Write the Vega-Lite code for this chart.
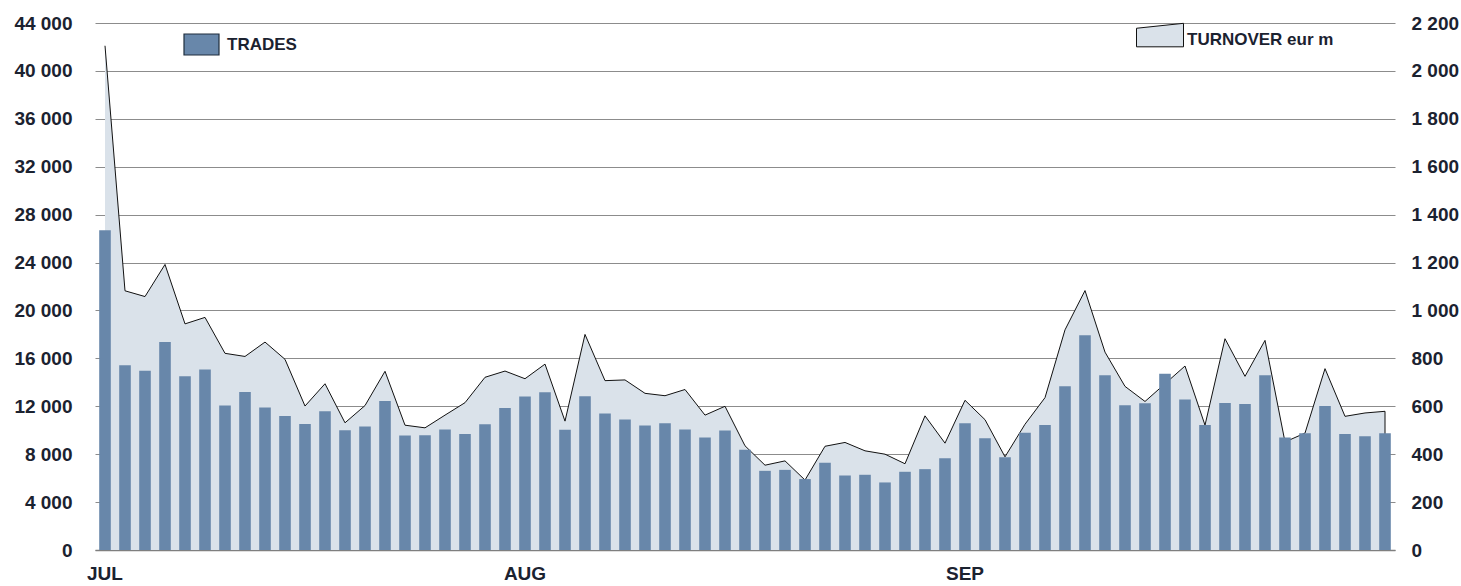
{
  "$schema": "https://vega.github.io/schema/vega-lite/v6.json",
  "width": 1300,
  "height": 527,
  "autosize": {"type": "none"},
  "padding": {"left": 95, "top": 23, "right": 66, "bottom": 36},
  "background": "white",
  "config": {
    "view": {"stroke": null},
    "font": "Liberation Sans",
    "axis": {"labelFont": "Liberation Sans", "labelFontWeight": "bold", "labelFontSize": 19, "labelColor": "#1b2230", "title": null},
    "legend": {"labelFont": "Liberation Sans", "labelFontWeight": "bold", "labelFontSize": 17, "labelColor": "#1b2230", "title": null}
  },
  "data": {"values": [
    {"i": 0, "trades": 26700, "turnover": 2105},
    {"i": 1, "trades": 15420, "turnover": 1082},
    {"i": 2, "trades": 14970, "turnover": 1058},
    {"i": 3, "trades": 17360, "turnover": 1192},
    {"i": 4, "trades": 14500, "turnover": 944},
    {"i": 5, "trades": 15060, "turnover": 971},
    {"i": 6, "trades": 12060, "turnover": 821},
    {"i": 7, "trades": 13190, "turnover": 808},
    {"i": 8, "trades": 11890, "turnover": 868},
    {"i": 9, "trades": 11190, "turnover": 796},
    {"i": 10, "trades": 10530, "turnover": 601},
    {"i": 11, "trades": 11580, "turnover": 694},
    {"i": 12, "trades": 10000, "turnover": 531},
    {"i": 13, "trades": 10310, "turnover": 603},
    {"i": 14, "trades": 12440, "turnover": 746},
    {"i": 15, "trades": 9560, "turnover": 521},
    {"i": 16, "trades": 9580, "turnover": 510},
    {"i": 17, "trades": 10060, "turnover": 563},
    {"i": 18, "trades": 9690, "turnover": 615},
    {"i": 19, "trades": 10500, "turnover": 721},
    {"i": 20, "trades": 11860, "turnover": 747},
    {"i": 21, "trades": 12810, "turnover": 715},
    {"i": 22, "trades": 13170, "turnover": 776},
    {"i": 23, "trades": 10030, "turnover": 538},
    {"i": 24, "trades": 12830, "turnover": 900},
    {"i": 25, "trades": 11390, "turnover": 707},
    {"i": 26, "trades": 10890, "turnover": 710},
    {"i": 27, "trades": 10390, "turnover": 654},
    {"i": 28, "trades": 10580, "turnover": 644},
    {"i": 29, "trades": 10060, "turnover": 670},
    {"i": 30, "trades": 9390, "turnover": 563},
    {"i": 31, "trades": 9970, "turnover": 600},
    {"i": 32, "trades": 8360, "turnover": 435},
    {"i": 33, "trades": 6610, "turnover": 354},
    {"i": 34, "trades": 6690, "turnover": 372},
    {"i": 35, "trades": 5920, "turnover": 292},
    {"i": 36, "trades": 7280, "turnover": 433},
    {"i": 37, "trades": 6220, "turnover": 449},
    {"i": 38, "trades": 6280, "turnover": 414},
    {"i": 39, "trades": 5640, "turnover": 400},
    {"i": 40, "trades": 6530, "turnover": 360},
    {"i": 41, "trades": 6750, "turnover": 560},
    {"i": 42, "trades": 7670, "turnover": 446},
    {"i": 43, "trades": 10580, "turnover": 625},
    {"i": 44, "trades": 9330, "turnover": 544},
    {"i": 45, "trades": 7750, "turnover": 389},
    {"i": 46, "trades": 9780, "turnover": 525},
    {"i": 47, "trades": 10440, "turnover": 636},
    {"i": 48, "trades": 13670, "turnover": 919},
    {"i": 49, "trades": 17920, "turnover": 1083},
    {"i": 50, "trades": 14580, "turnover": 826},
    {"i": 51, "trades": 12080, "turnover": 683},
    {"i": 52, "trades": 12250, "turnover": 620},
    {"i": 53, "trades": 14720, "turnover": 694},
    {"i": 54, "trades": 12560, "turnover": 768},
    {"i": 55, "trades": 10440, "turnover": 521},
    {"i": 56, "trades": 12280, "turnover": 882},
    {"i": 57, "trades": 12190, "turnover": 725},
    {"i": 58, "trades": 14580, "turnover": 875},
    {"i": 59, "trades": 9390, "turnover": 451},
    {"i": 60, "trades": 9750, "turnover": 488},
    {"i": 61, "trades": 12030, "turnover": 757},
    {"i": 62, "trades": 9690, "turnover": 558},
    {"i": 63, "trades": 9500, "turnover": 572},
    {"i": 64, "trades": 9750, "turnover": 579}
  ]},
  "encoding": {
    "x": {
      "field": "i", "type": "ordinal",
      "scale": {"paddingInner": 0.42, "paddingOuter": 0.21},
      "axis": {
        "values": [0, 21, 43],
        "labelExpr": "datum.value == 0 ? 'JUL' : datum.value == 21 ? 'AUG' : 'SEP'",
        "labelAngle": 0, "ticks": false, "domainColor": "#7f7f7f", "domainWidth": 1.5,
        "labelPadding": 14, "grid": false
      }
    }
  },
  "layer": [
    {
      "layer": [
        {
          "mark": {"type": "area", "opacity": 1},
          "encoding": {
            "y": {"field": "turnover", "type": "quantitative", "scale": {"domain": [0, 2200], "nice": false},
              "axis": {"orient": "right", "values": [0, 200, 400, 600, 800, 1000, 1200, 1400, 1600, 1800, 2000, 2200],
                "labelExpr": "replace(format(datum.value, ','), ',', ' ')", "grid": false, "domain": false, "ticks": false, "labelPadding": 16}},
            "fill": {"datum": "TURNOVER eur m", "scale": {"range": ["#dae2ea"]},
              "legend": {"orient": "none", "legendX": 1041, "legendY": -7, "symbolType": "M-1,-0.5L1,-0.71L1,0.29L-1,0.29Z", "symbolSize": 2209, "symbolStrokeColor": "#111111", "symbolStrokeWidth": 1, "symbolOpacity": 1, "labelOffset": 3}}
          }
        },
        {
          "mark": {"type": "line", "color": "#111111", "strokeWidth": 1},
          "encoding": {"y": {"field": "turnover", "type": "quantitative"}}
        },
        {
          "transform": [{"filter": "datum.i == 64"}],
          "mark": {"type": "rule", "color": "#111111", "strokeWidth": 1},
          "encoding": {"y": {"field": "turnover", "type": "quantitative"}, "y2": {"datum": 0}}
        }
      ]
    },
    {
      "mark": {"type": "bar"},
      "encoding": {
        "y": {"field": "trades", "type": "quantitative", "scale": {"domain": [0, 44000], "nice": false},
          "axis": {"orient": "left", "values": [0, 4000, 8000, 12000, 16000, 20000, 24000, 28000, 32000, 36000, 40000, 44000],
            "labelExpr": "replace(format(datum.value, ','), ',', ' ')", "grid": true, "gridColor": "#8c8c8c", "gridWidth": 1, "domain": false, "ticks": false, "labelPadding": 23}},
        "color": {"datum": "TRADES", "scale": {"range": ["#6887aa"]},
          "legend": {"orient": "none", "legendX": 88, "legendY": 3, "symbolType": "M-1,-0.6H1V0.6H-1Z", "symbolSize": 1225, "symbolStrokeColor": "#1f2d3d", "symbolStrokeWidth": 1.2, "symbolOpacity": 1, "labelOffset": 7}}
      }
    }
  ],
  "resolve": {"scale": {"y": "independent"}, "axis": {"y": "independent"}}
}
